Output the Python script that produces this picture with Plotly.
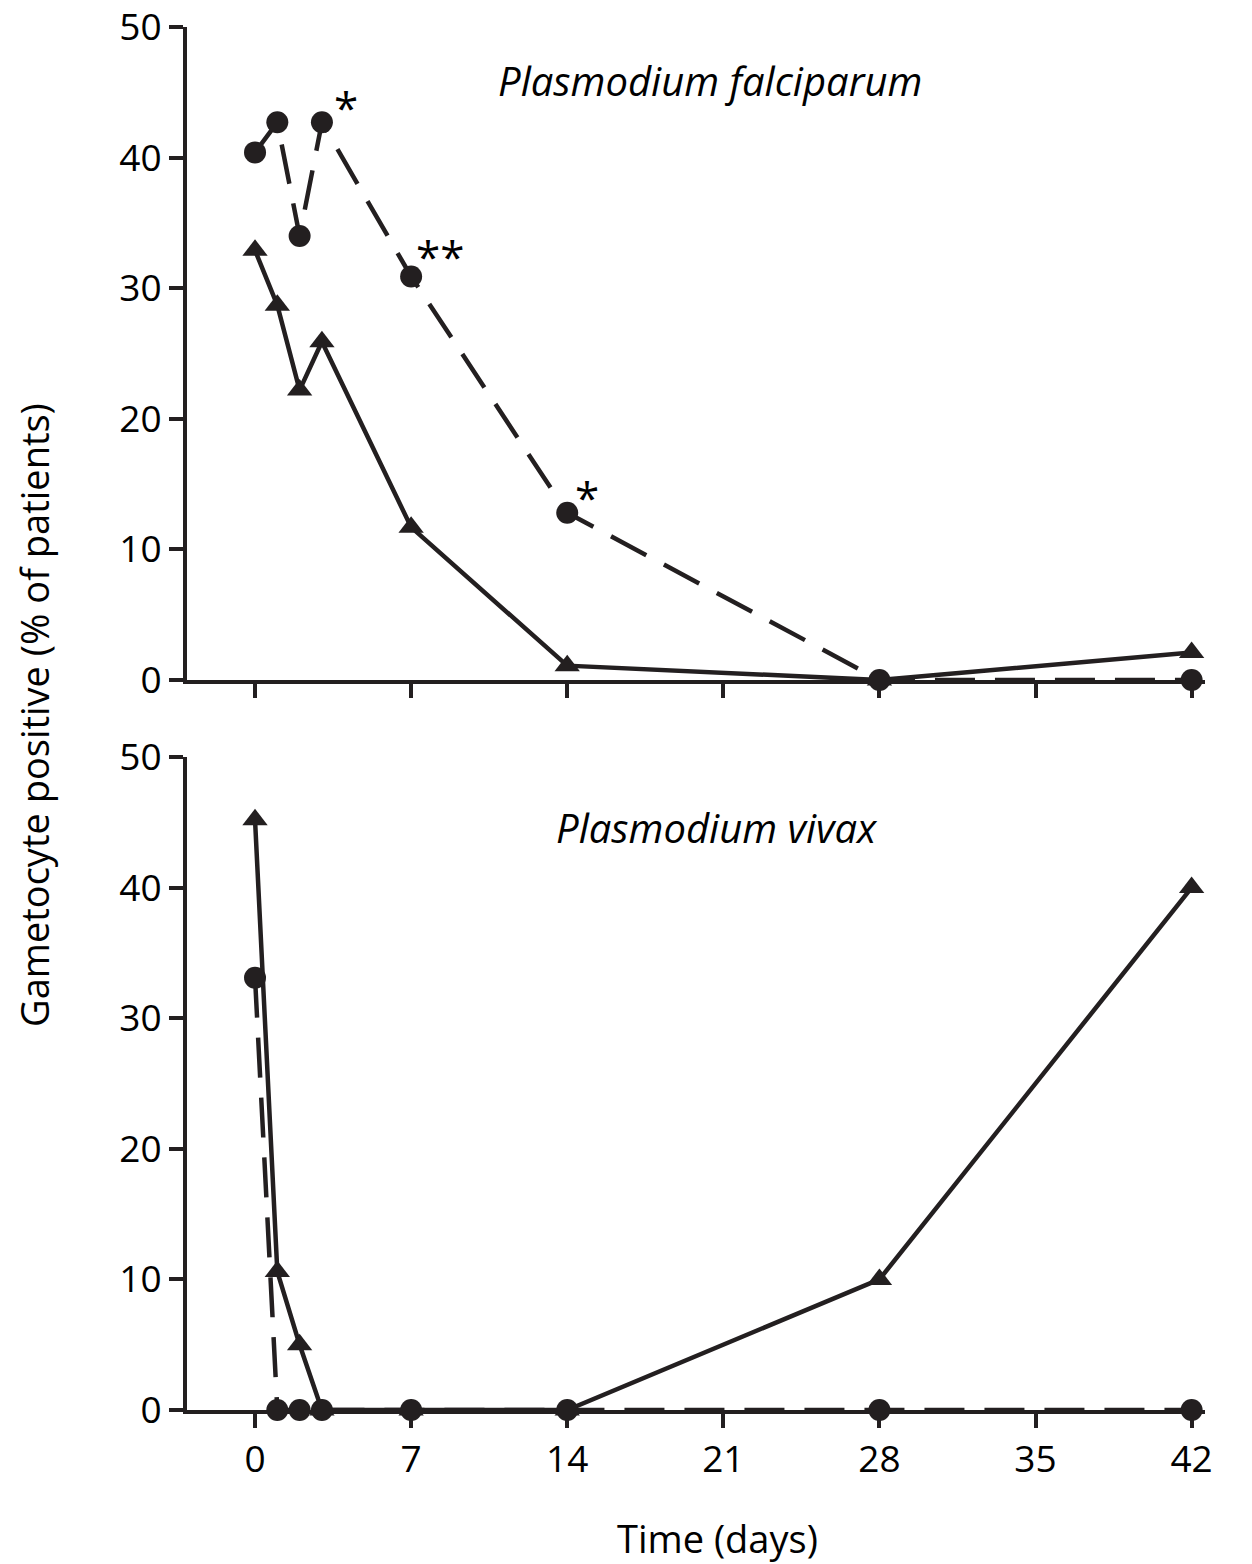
import plotly.graph_objects as go

days = [0, 1, 2, 3, 7, 14, 28, 42]
pf_circle = [40.4, 42.7, 34.0, 42.7, 30.9, 12.8, 0, 0]
pf_triangle = [32.9, 28.7, 22.2, 25.9, 11.7, 1.1, 0, 2.1]
pv_circle = [33.1, 0, 0, 0, 0, 0, 0, 0]
pv_triangle = [45.2, 10.6, 5.0, 0, 0, 0, 10.0, 40.0]
x_ticks = [0, 7, 14, 21, 28, 35, 42]
y_ticks = [0, 10, 20, 30, 40, 50]

INK = "#231f20"
FONT = "Open Sans"

W, H = 1244, 1556
L, R, T, B = 179, 47, 19, 154
PW, PH = W - L - R, H - T - B

fig = go.Figure()

def add_pair(circ, tri, xa, ya):
    fig.add_trace(go.Scatter(x=days, y=tri, mode="lines+markers", xaxis=xa, yaxis=ya,
                             line=dict(color=INK, width=4.5),
                             marker=dict(symbol="triangle-up", size=22, color=INK),
                             cliponaxis=False, showlegend=False))
    fig.add_trace(go.Scatter(x=days, y=circ, mode="lines+markers", xaxis=xa, yaxis=ya,
                             line=dict(color=INK, width=4.5, dash="40px,20px"),
                             marker=dict(symbol="circle", size=22, color=INK),
                             cliponaxis=False, showlegend=False))

add_pair(pf_circle, pf_triangle, "x", "y")
add_pair(pv_circle, pv_triangle, "x2", "y2")

common = dict(ticks="outside", ticklen=14, tickwidth=4, tickcolor=INK, showline=True,
              linewidth=4, linecolor=INK, showgrid=False, zeroline=False, automargin=False,
              ticklabeloverflow="allow",
              tickfont=dict(family=FONT, size=37, color="black"))
xcommon = dict(range=[-3.05, 42.6], tickvals=x_ticks, **common)
ycommon = dict(range=[0, 50], tickvals=y_ticks, **common)

top_lo = 730 / 1383
bot_hi = 653 / 1383

fig.update_layout(
    width=W, height=H,
    margin=dict(l=L, r=R, t=T, b=B, pad=0),
    plot_bgcolor="white", paper_bgcolor="white",
    xaxis=dict(**xcommon, domain=[0, 1], anchor="y", showticklabels=False),
    yaxis=dict(**ycommon, domain=[top_lo, 1], anchor="x"),
    xaxis2=dict(**xcommon, domain=[0, 1], anchor="y2"),
    yaxis2=dict(**ycommon, domain=[0, bot_hi], anchor="x2"),
    font=dict(family=FONT, color="black"),
)

ann_font = dict(family=FONT, size=44, color="black")
anns = [
    dict(x=4.1, y=44.2, xref="x", yref="y", text="*"),
    dict(x=8.3, y=32.8, xref="x", yref="y", text="**"),
    dict(x=14.9, y=14.3, xref="x", yref="y", text="*"),
    dict(x=43.4, y=42.0, xref="x2", yref="y2", text="**"),
]
for a in anns:
    fig.add_annotation(**a, showarrow=False, font=ann_font, yshift=-4)

fig.add_annotation(x=20.4, y=45.9, xref="x", yref="y", text="<i>Plasmodium falciparum</i>",
                   showarrow=False, font=dict(family=FONT, size=40, color="black"))
fig.add_annotation(x=20.7, y=44.6, xref="x2", yref="y2", text="<i>Plasmodium vivax</i>",
                   showarrow=False, font=dict(family=FONT, size=40, color="black"))

fig.add_annotation(x=(717 - 8 - L) / PW, y=-(1538 - 8 - (H - B)) / PH, xref="paper", yref="paper",
                   text="Time (days)", showarrow=False, yanchor="middle", xanchor="center",
                   font=dict(family=FONT, size=38, color="black"))
fig.add_annotation(x=-(L - (34 - 8)) / PW, y=((H - B) - (715 - 8)) / PH,
                   xref="paper", yref="paper", text="Gametocyte positive (% of patients)",
                   textangle=-90, showarrow=False, yanchor="middle", xanchor="center",
                   font=dict(family=FONT, size=38, color="black"))

fig.write_html("out.html")
